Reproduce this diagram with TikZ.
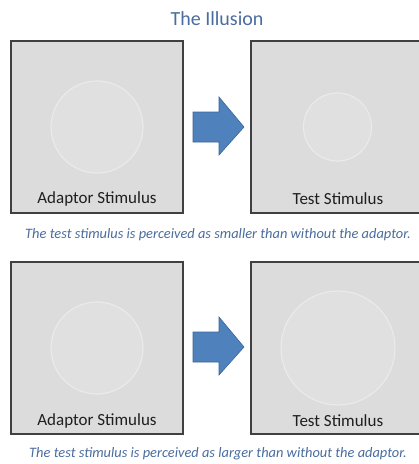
\documentclass[tikz,border=0pt]{standalone}
\usepackage{fontspec}
\setmainfont{Carlito}
\definecolor{panelgray}{HTML}{DCDCDC}
\definecolor{discgray}{HTML}{E0E0E0}
\definecolor{discedge}{HTML}{EAEAEA}
\definecolor{frame}{HTML}{404040}
\definecolor{arrowblue}{HTML}{4F81BD}
\definecolor{arrowedge}{HTML}{3C6596}
\definecolor{textblue}{HTML}{4A6C9E}
\begin{document}
\begin{tikzpicture}[x=1pt,y=-1pt,
  panel/.style={draw=frame, line width=1.1pt, fill=panelgray, minimum width=172, minimum height=172, inner sep=0pt},
  disc/.style={circle, fill=discgray, draw=discedge, line width=1.2pt, inner sep=0pt},
  lbl/.style={font=\fontsize{17}{20}\selectfont, text=black!88, inner sep=0pt},
  captext/.style={font=\fontsize{14.4}{17}\selectfont\itshape, text=textblue, inner sep=0pt},
  bigarrow/.style={fill=arrowblue, draw=arrowedge, line width=0.6pt, line join=miter}
]
\useasboundingbox (0,0) rectangle (419,464);
\node[font=\fontsize{20}{24}\selectfont, text=textblue, inner sep=0pt] (title) at (217,19) {The Illusion};

% top row
\node[panel] (p1) at (97,127) {};
\node[panel] (p2) at (337,127) {};
\node[disc, minimum size=92] (c1) at (97,127) {};
\node[disc, minimum size=68] (c2) at (337.5,127) {};
\node[lbl] (l1) at (97,199) {Adaptor Stimulus};
\node[lbl] (l2) at (338,199) {Test Stimulus};
\draw[bigarrow] (193,112) -- (219,112) -- (219,97) -- (244,127) -- (219,155) -- (219,142) -- (193,142) -- cycle;
\node[captext] (cap1) at (218,235) {The test stimulus is perceived as smaller than without the adaptor.};

% bottom row
\node[panel] (p3) at (97,348) {};
\node[panel] (p4) at (337,348) {};
\node[disc, minimum size=92] (c3) at (97,348) {};
\node[disc, minimum size=114] (c4) at (338,348) {};
\node[lbl] (l3) at (97,421) {Adaptor Stimulus};
\node[lbl] (l4) at (338,421) {Test Stimulus};
\draw[bigarrow] (193,332) -- (219,332) -- (219,317) -- (244,347) -- (219,375) -- (219,362) -- (193,362) -- cycle;
\node[captext] (cap2) at (218,454) {The test stimulus is perceived as larger than without the adaptor.};
\end{tikzpicture}
\end{document}
